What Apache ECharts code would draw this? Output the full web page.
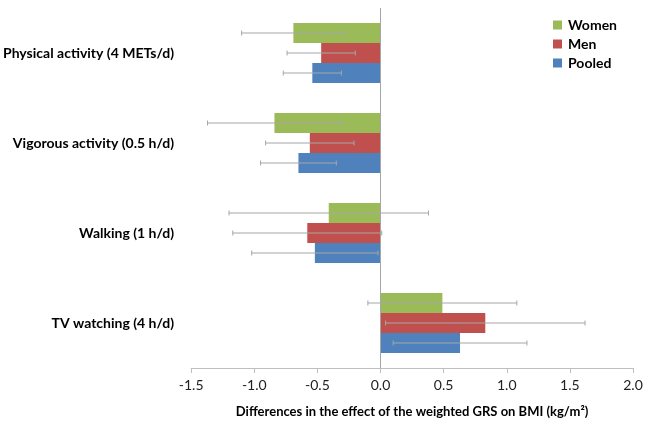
<!DOCTYPE html>
<html>
<head>
<meta charset="utf-8">
<script src="https://cdn.jsdelivr.net/npm/echarts@6/dist/echarts.min.js"></script>
<style>html,body{margin:0;padding:0;background:#fff}#c{width:650px;height:426px}</style>
</head>
<body>
<div id="c"></div>
<script>
var categories = ['Physical activity (4 METs/d)', 'Vigorous activity (0.5 h/d)', 'Walking (1 h/d)', 'TV watching (4 h/d)'];
var seriesNames = ['Women', 'Men', 'Pooled'];
var women = [-0.69, -0.84, -0.41, 0.49];
var womenLow = [-1.10, -1.37, -1.20, -0.10];
var womenHigh = [-0.28, -0.31, 0.38, 1.08];
var men = [-0.47, -0.56, -0.58, 0.83];
var menLow = [-0.74, -0.91, -1.17, 0.04];
var menHigh = [-0.20, -0.21, 0.01, 1.62];
var pooled = [-0.54, -0.65, -0.52, 0.63];
var pooledLow = [-0.77, -0.95, -1.02, 0.10];
var pooledHigh = [-0.31, -0.35, -0.02, 1.16];
var xTicks = [-1.5, -1.0, -0.5, 0.0, 0.5, 1.0, 1.5, 2.0];
var colors = ['#9bbb59', '#c0504d', '#4f81bd'];

var catGap = 1 / 3;
var values = [women, men, pooled];
var lows = [womenLow, menLow, pooledLow];
var highs = [womenHigh, menHigh, pooledHigh];

function errRender(i) {
  return function (params, api) {
    var cat = api.value(0);
    var lo = api.coord([api.value(1), cat]);
    var hi = api.coord([api.value(2), cat]);
    var band = Math.abs(api.size([0, 1])[1]);
    var group = band * (1 - catGap);
    var bw = group / 3;
    var y = lo[1] - group / 2 + bw * (i + 0.5);
    var cap = 2.5;
    var style = { stroke: '#a6a6a6', lineWidth: 1 };
    return {
      type: 'group',
      children: [
        { type: 'line', shape: { x1: lo[0], y1: y, x2: hi[0], y2: y }, style: style },
        { type: 'line', shape: { x1: lo[0], y1: y - cap, x2: lo[0], y2: y + cap }, style: style },
        { type: 'line', shape: { x1: hi[0], y1: y - cap, x2: hi[0], y2: y + cap }, style: style }
      ]
    };
  };
}

var series = [];
for (var i = 0; i < 3; i++) {
  var s = {
    name: seriesNames[i],
    type: 'bar',
    data: values[i],
    barGap: '0%',
    barCategoryGap: (catGap * 100) + '%',
    itemStyle: { color: colors[i] },
    z: 2
  };
  if (i === 0) {
    s.markLine = {
      silent: true,
      symbol: 'none',
      label: { show: false },
      lineStyle: { color: '#a6a6a6', type: 'solid', width: 1 },
      data: [{ xAxis: 0 }]
    };
  }
  series.push(s);
}
for (var j = 0; j < 3; j++) {
  var d = [];
  for (var k = 0; k < categories.length; k++) d.push([k, lows[j][k], highs[j][k]]);
  series.push({
    type: 'custom',
    renderItem: errRender(j),
    data: d,
    encode: { x: [1, 2], y: 0 },
    z: 5,
    silent: true
  });
}

var chart = echarts.init(document.getElementById('c'), null, { renderer: 'canvas' });
chart.setOption({
  animation: false,
  textStyle: { fontFamily: 'Lato' },
  grid: { left: 185, right: 17, top: 8, bottom: 58 },
  legend: {
    data: seriesNames,
    orient: 'vertical',
    left: 548,
    top: 13,
    itemWidth: 9,
    itemHeight: 9,
    itemGap: 5,
    icon: 'rect',
    textStyle: { fontFamily: 'Lato', fontWeight: 'bold', fontSize: 14, color: '#000', padding: [0, 0, 0, 1] }
  },
  xAxis: {
    type: 'value',
    min: xTicks[0],
    max: xTicks[xTicks.length - 1],
    interval: 0.5,
    name: 'Differences in the effect of the weighted GRS on BMI (kg/m²)',
    nameLocation: 'middle',
    nameGap: 37,
    nameTextStyle: { fontFamily: 'Lato', fontWeight: 'bold', fontSize: 13, color: '#000' },
    axisLine: { show: true, onZero: false, lineStyle: { color: '#bfbfbf' } },
    axisTick: { show: true, length: 5, lineStyle: { color: '#bfbfbf' } },
    splitLine: { show: false },
    axisLabel: { fontFamily: 'Lato', fontSize: 14, color: '#222', margin: 10, formatter: function (v) { return v.toFixed(1); } }
  },
  yAxis: {
    type: 'category',
    inverse: true,
    data: categories,
    axisLine: { show: false },
    axisTick: { show: false },
    axisLabel: { fontFamily: 'Lato', fontWeight: 'bold', fontSize: 14, color: '#000', margin: 17 }
  },
  series: series
});
</script>
</body>
</html>
